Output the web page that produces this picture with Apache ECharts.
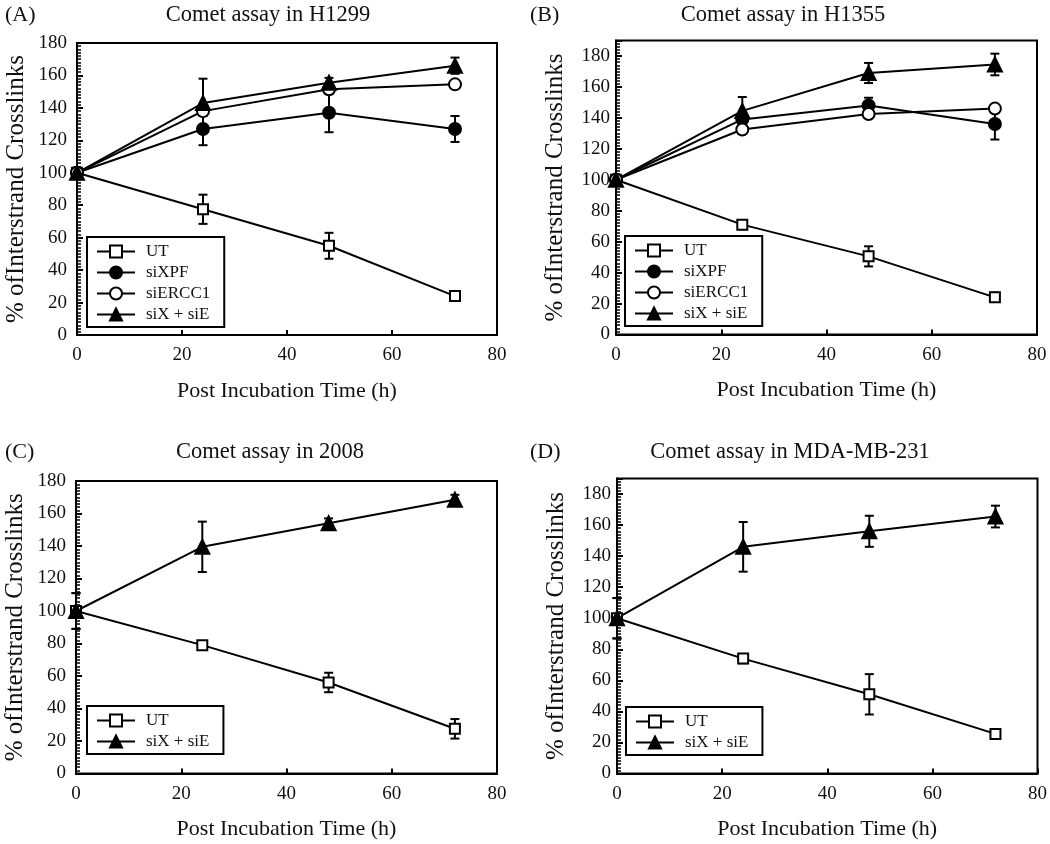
<!DOCTYPE html>
<html>
<head>
<meta charset="utf-8">
<script src="https://cdn.jsdelivr.net/npm/echarts@6/dist/echarts.min.js"></script>
<style>
html,body{margin:0;padding:0;background:#fff;}
#chart{width:1050px;height:844px;}
</style>
</head>
<body>
<div id="chart"></div>
<script>
// ---- data ----
const times = [0, 24, 48, 72];
const xTicks = [0, 20, 40, 60, 80];
const yTicks = [0, 20, 40, 60, 80, 100, 120, 140, 160, 180];
const panelTitles = ['Comet assay in H1299', 'Comet assay in H1355', 'Comet assay in 2008', 'Comet assay in MDA-MB-231'];
const panelLetters = ['(A)', '(B)', '(C)', '(D)'];
const seriesNames = ['UT', 'siXPF', 'siERCC1', 'siX + siE'];

// Panel A (H1299)
const a_UT = [100, 77.5, 55, 24];
const a_UT_err = [3, 9, 8, 3];
const a_XPF = [100, 127, 137, 127];
const a_XPF_err = [3, 10, 12, 8];
const a_ERCC1 = [100, 138, 151.5, 154.5];
const a_ERCC1_err = [3, 3, 3, 2];
const a_XE = [100, 143, 155.5, 166];
const a_XE_err = [3, 15, 3, 5];

// Panel B (H1355)
const b_UT = [100, 71, 50.5, 24];
const b_UT_err = [2, 2, 6.5, 3];
const b_XPF = [100, 139, 148, 136];
const b_XPF_err = [2, 3, 5, 10];
const b_ERCC1 = [100, 132.5, 142.5, 146];
const b_ERCC1_err = [2, 2, 2, 2];
const b_XE = [100, 144.5, 169, 174.5];
const b_XE_err = [2, 9, 6.5, 7];

// Panel C (2008)
const c_UT = [100, 79, 56, 27.5];
const c_UT_err = [11, 2, 6, 6];
const c_XE = [100, 139.5, 154, 168.5];
const c_XE_err = [11, 15.5, 3, 3];

// Panel D (MDA-MB-231)
const d_UT = [100, 74, 51, 25.5];
const d_UT_err = [13, 3, 13, 2];
const d_XE = [100, 146, 156, 165.5];
const d_XE_err = [13, 16, 10, 7];

// ---- styling / layout ----
const FONT = 'Liberation Serif';
const INK = '#111';
const STYLE = {
  'UT': {symbol: 'rect', size: 10, fill: '#fff'},
  'siXPF': {symbol: 'circle', size: 12, fill: '#000'},
  'siERCC1': {symbol: 'circle', size: 12, fill: '#fff'},
  'siX + siE': {symbol: 'triangle', size: 14, fill: '#000'}
};

const panels = [
  {grid: {left: 77, top: 43, width: 420, height: 292}, ymax: 180,
   titleX: 268, titleY: 4, letterX: 5, letterY: 4,
   legend: {left: 87, top: 237},
   series: [['UT', a_UT, a_UT_err], ['siXPF', a_XPF, a_XPF_err], ['siERCC1', a_ERCC1, a_ERCC1_err], ['siX + siE', a_XE, a_XE_err]]},
  {grid: {left: 616, top: 40.5, width: 421, height: 294}, ymax: 190,
   titleX: 783, titleY: 4, letterX: 530, letterY: 4,
   legend: {left: 625, top: 236},
   series: [['UT', b_UT, b_UT_err], ['siXPF', b_XPF, b_XPF_err], ['siERCC1', b_ERCC1, b_ERCC1_err], ['siX + siE', b_XE, b_XE_err]]},
  {grid: {left: 76, top: 481, width: 421, height: 292.5}, ymax: 180,
   titleX: 270, titleY: 441, letterX: 5, letterY: 441,
   legend: {left: 87, top: 706},
   series: [['UT', c_UT, c_UT_err], ['siX + siE', c_XE, c_XE_err]]},
  {grid: {left: 617, top: 478.5, width: 424, height: 295}, ymax: 190,
   titleX: 790, titleY: 441, letterX: 530, letterY: 441,
   legend: {left: 626, top: 707},
   series: [['UT', d_UT, d_UT_err], ['siX + siE', d_XE, d_XE_err]]}
];

function renderErr(params, api) {
  const x = api.value(0), y = api.value(1), e = api.value(2);
  const top = api.coord([x, y + e]);
  const bot = api.coord([x, y - e]);
  const w = 4.5;
  const st = {stroke: '#000', lineWidth: 2};
  return {type: 'group', children: [
    {type: 'line', shape: {x1: top[0], y1: top[1], x2: bot[0], y2: bot[1]}, style: st},
    {type: 'line', shape: {x1: top[0] - w, y1: top[1], x2: top[0] + w, y2: top[1]}, style: st},
    {type: 'line', shape: {x1: bot[0] - w, y1: bot[1], x2: bot[0] + w, y2: bot[1]}, style: st}
  ]};
}

const option = {
  animation: false,
  backgroundColor: '#fff',
  title: [], grid: [], xAxis: [], yAxis: [], legend: [], series: []
};

panels.forEach((p, i) => {
  option.grid.push(Object.assign({show: true, borderColor: '#000', borderWidth: 2, backgroundColor: 'transparent'}, p.grid));
  option.title.push({text: panelTitles[i], left: p.titleX, top: p.titleY, textAlign: 'center', padding: 0,
    textStyle: {fontFamily: FONT, fontSize: 22.5, fontWeight: 'normal', color: INK}});
  option.title.push({text: panelLetters[i], left: p.letterX, top: p.letterY, padding: 0,
    textStyle: {fontFamily: FONT, fontSize: 22, fontWeight: 'normal', color: INK}});
  option.xAxis.push({
    type: 'value', gridIndex: i, min: xTicks[0], max: xTicks[xTicks.length - 1], interval: 20,
    name: 'Post Incubation Time (h)', nameLocation: 'middle', nameGap: 45,
    nameTextStyle: {fontFamily: FONT, fontSize: 22, color: INK},
    axisLine: {show: true, lineStyle: {color: '#000', width: 2}},
    axisTick: {show: true, inside: true, length: 5, lineStyle: {color: '#000', width: 2}},
    axisLabel: {fontFamily: FONT, fontSize: 19, color: INK, margin: 11},
    splitLine: {show: false}
  });
  option.yAxis.push({
    type: 'value', gridIndex: i, min: yTicks[0], max: p.ymax, interval: 20,
    name: '% ofInterstrand Crosslinks', nameLocation: 'middle', nameGap: 48, nameRotate: 90,
    nameTextStyle: {fontFamily: FONT, fontSize: 25, color: INK},
    axisLine: {show: true, lineStyle: {color: '#000', width: 2}},
    axisTick: {show: true, inside: true, length: 6, lineStyle: {color: '#000', width: 2}},
    minorTick: {show: true, splitNumber: 10, length: 4, lineStyle: {color: '#000', width: 1.5}},
    axisLabel: {fontFamily: FONT, fontSize: 19, color: INK, margin: i % 2 === 0 ? 10 : 6, showMaxLabel: p.ymax === 180,
      formatter: v => (yTicks.indexOf(v) >= 0 ? String(v) : '')},
    splitLine: {show: false}
  });
  option.legend.push({
    data: p.series.map(s => s[0]),
    orient: 'vertical', left: p.legend.left, top: p.legend.top,
    borderColor: '#000', borderWidth: 2, padding: [6, 14, 4, 9],
    itemWidth: 38, itemHeight: 15, itemGap: 4, selectedMode: false,
    textStyle: {fontFamily: FONT, fontSize: 17, color: INK, padding: [0, 0, 0, 6]}
  });
  p.series.forEach(s => {
    const [name, vals, errs] = s;
    option.series.push({
      type: 'custom', name: name + ' error', xAxisIndex: i, yAxisIndex: i, z: 1,
      renderItem: renderErr, clip: false,
      data: times.map((t, k) => [t, vals[k], errs[k]])
    });
  });
  p.series.forEach(s => {
    const [name, vals] = s;
    const st = STYLE[name];
    option.series.push({
      type: 'line', name: name, xAxisIndex: i, yAxisIndex: i, z: 3,
      symbol: st.symbol, symbolSize: st.size, showAllSymbol: true,
      lineStyle: {color: '#000', width: 2},
      itemStyle: {color: st.fill, borderColor: '#000', borderWidth: 2, opacity: 1},
      emphasis: {disabled: true},
      data: times.map((t, k) => [t, vals[k]])
    });
  });
});

const chart = echarts.init(document.getElementById('chart'), null, {renderer: 'canvas'});
chart.setOption(option);
</script>
</body>
</html>
